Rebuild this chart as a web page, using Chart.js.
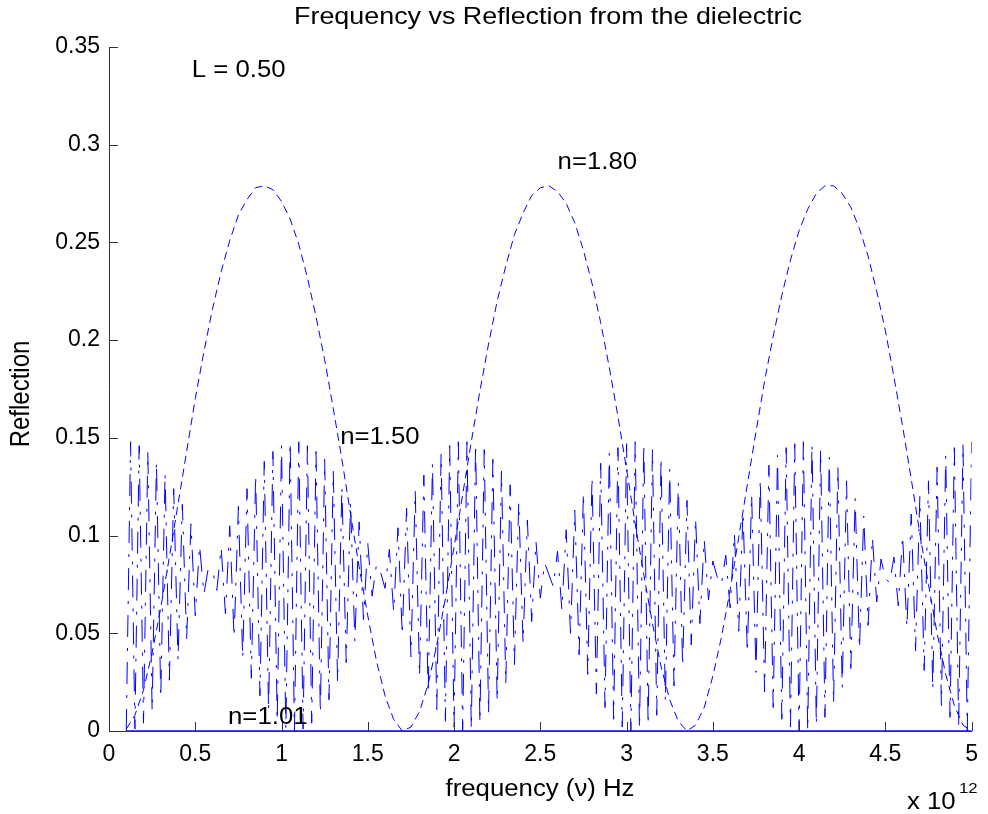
<!DOCTYPE html>
<html>
<head>
<meta charset="utf-8">
<title>Frequency vs Reflection from the dielectric</title>
<script src="https://cdn.jsdelivr.net/npm/chart.js@4.4.0/dist/chart.umd.min.js"></script>
<style>
  html, body { margin: 0; padding: 0; background: #fff; }
</style>
</head>
<body>
<canvas id="myChart" width="988" height="814"></canvas>
<script>
// frequency axis in units of 10^12 Hz
const xTickLabels = ["0", "0.5", "1", "1.5", "2", "2.5", "3", "3.5", "4", "4.5", "5"];
const yTickLabels = ["0", "0.05", "0.1", "0.15", "0.2", "0.25", "0.3", "0.35"];

// n = 1.80, sampled every 0.05 from 0.1
const n180Start = 0.1, n180Step = 0.05;
const n180 = [
  0.001, 0.008, 0.021, 0.040, 0.063, 0.089, 0.116, 0.143, 0.170, 0.194,
  0.216, 0.235, 0.251, 0.264, 0.272, 0.278, 0.279, 0.277, 0.271, 0.262,
  0.249, 0.232, 0.212, 0.190, 0.165, 0.139, 0.111, 0.084, 0.059, 0.036,
  0.018, 0.006, 0.000, 0.002, 0.010, 0.024, 0.044, 0.068, 0.094, 0.121,
  0.148, 0.174, 0.198, 0.220, 0.238, 0.254, 0.265, 0.274, 0.278, 0.279,
  0.276, 0.270, 0.260, 0.246, 0.229, 0.209, 0.186, 0.161, 0.134, 0.106,
  0.080, 0.055, 0.033, 0.016, 0.005, 0.000, 0.003, 0.012, 0.028, 0.048,
  0.072, 0.099, 0.126, 0.153, 0.179, 0.202, 0.223, 0.241, 0.256, 0.267,
  0.275, 0.279, 0.279, 0.275, 0.268, 0.257, 0.243, 0.225, 0.205, 0.181,
  0.156, 0.129, 0.101, 0.075, 0.050, 0.029, 0.013, 0.003, 0.000
];

// n = 1.50, sampled every 0.025 from 0.1 (undersampled, so it zigzags)
const n150Start = 0.1, n150Step = 0.025;
const n150 = [
  0.000, 0.148, 0.001, 0.146, 0.004, 0.143, 0.010, 0.138, 0.017, 0.132,
  0.026, 0.124, 0.036, 0.116, 0.047, 0.106, 0.059, 0.095, 0.070, 0.083,
  0.082, 0.072, 0.094, 0.060, 0.105, 0.048, 0.115, 0.037, 0.124, 0.027,
  0.131, 0.018, 0.138, 0.010, 0.143, 0.005, 0.146, 0.001, 0.148, 0.000,
  0.148, 0.001, 0.146, 0.004, 0.143, 0.009, 0.139, 0.016, 0.133, 0.025,
  0.125, 0.035, 0.117, 0.046, 0.107, 0.057, 0.096, 0.069, 0.085, 0.081,
  0.073, 0.093, 0.061, 0.104, 0.049, 0.114, 0.038, 0.123, 0.028, 0.131,
  0.019, 0.137, 0.011, 0.142, 0.005, 0.146, 0.002, 0.148, 0.000, 0.148,
  0.001, 0.147, 0.004, 0.144, 0.009, 0.139, 0.015, 0.133, 0.024, 0.126,
  0.034, 0.117, 0.045, 0.108, 0.056, 0.097, 0.068, 0.086, 0.080, 0.074,
  0.092, 0.062, 0.103, 0.050, 0.113, 0.039, 0.122, 0.029, 0.130, 0.019,
  0.137, 0.012, 0.142, 0.006, 0.145, 0.002, 0.147, 0.000, 0.148, 0.001,
  0.147, 0.003, 0.144, 0.008, 0.140, 0.015, 0.134, 0.023, 0.127, 0.033,
  0.118, 0.044, 0.109, 0.055, 0.098, 0.067, 0.087, 0.079, 0.075, 0.090,
  0.063, 0.101, 0.051, 0.112, 0.040, 0.121, 0.030, 0.129, 0.020, 0.136,
  0.012, 0.141, 0.006, 0.145, 0.002, 0.147, 0.000, 0.148, 0.000, 0.147,
  0.003, 0.144, 0.007, 0.140, 0.014, 0.135, 0.022, 0.128, 0.032, 0.119,
  0.042, 0.110, 0.054, 0.099, 0.066, 0.088, 0.078, 0.076, 0.089, 0.064,
  0.100, 0.053, 0.111, 0.041, 0.120, 0.031, 0.128, 0.021, 0.135, 0.013,
  0.141, 0.007, 0.145, 0.003, 0.147, 0.000, 0.148
];

// n = 1.01, practically flat on zero
const n101Freq = [0.1, 1, 2, 3, 4, 5];
const n101 = [0.0001, 0.0001, 0.0001, 0.0001, 0.0001, 0.0001];

// text notes placed in data units
const noteText = ["L = 0.50", "n=1.80", "n=1.50", "n=1.01"];
const noteX = [0.48, 2.6, 1.34, 0.69];
const noteY = [0.338, 0.291, 0.15, 0.0066];

const FONT = '"Liberation Sans", Arial, Helvetica, sans-serif';
const stretch = 1.12;

function toPoints(start, step, vals) {
  return vals.map((v, i) => ({ x: +(start + i * step).toFixed(3), y: v }));
}

function drawText(ctx, txt, x, y, size, align) {
  ctx.save();
  ctx.font = size + "px " + FONT;
  ctx.fillStyle = "#000";
  ctx.textBaseline = "middle";
  ctx.textAlign = align || "left";
  ctx.translate(x, y);
  ctx.scale(stretch, 1);
  ctx.fillText(txt, 0, 0);
  ctx.restore();
}

const matlabAxes = {
  id: "matlabAxes",
  afterDatasetsDraw(chart) {
    const { ctx, chartArea: a, scales: { x, y } } = chart;
    // ticks point inwards like matlab
    ctx.save();
    ctx.strokeStyle = "#333";
    ctx.lineWidth = 1;
    ctx.beginPath();
    x.ticks.forEach((t) => {
      const px = Math.round(x.getPixelForValue(t.value)) + 0.5;
      ctx.moveTo(px, a.bottom);
      ctx.lineTo(px, a.bottom - 9);
    });
    y.ticks.forEach((t) => {
      const py = Math.round(y.getPixelForValue(t.value)) + 0.5;
      ctx.moveTo(a.left, py);
      ctx.lineTo(a.left + 9, py);
    });
    ctx.stroke();
    ctx.restore();

    noteText.forEach((txt, i) => {
      drawText(ctx, txt, x.getPixelForValue(noteX[i]), y.getPixelForValue(noteY[i]), 23);
    });
  },
  afterDraw(chart) {
    const ctx = chart.ctx;
    drawText(ctx, "Frequency vs Reflection from the dielectric", 548, 17, 24, "center");
    drawText(ctx, "frequency (\u03BD) Hz", 540, 790, 23, "center");
    drawText(ctx, "x 10", 907, 803, 23, "left");
    drawText(ctx, "12", 959, 789, 15, "left");

    ctx.save();
    ctx.font = "24px " + FONT;
    ctx.fillStyle = "#000";
    ctx.textAlign = "center";
    ctx.textBaseline = "middle";
    ctx.translate(22, 394);
    ctx.scale(stretch, 1);
    ctx.rotate(-Math.PI / 2);
    ctx.fillText("Reflection", 0, 0);
    ctx.restore();
  },
};

const cxx = document.getElementById("myChart").getContext("2d");
new Chart(cxx, {
  type: "line",
  data: {
    datasets: [
      {
        label: "n=1.01",
        data: n101Freq.map((f, i) => ({ x: f, y: n101[i] })),
        borderColor: "rgb(0,0,255)",
        borderWidth: 1,
      },
      {
        label: "n=1.50",
        data: toPoints(n150Start, n150Step, n150),
        borderColor: "rgb(0,0,255)",
        borderWidth: 1,
        borderDash: [22, 11, 3, 11],
      },
      {
        label: "n=1.80",
        data: toPoints(n180Start, n180Step, n180),
        borderColor: "rgb(0,0,255)",
        borderWidth: 1,
        borderDash: [8, 5],
      },
    ],
  },
  options: {
    responsive: false,
    animation: false,
    elements: { point: { radius: 0 }, line: { tension: 0, fill: false } },
    layout: { padding: { top: 47, right: 11, left: 0, bottom: 0 } },
    plugins: { legend: { display: false }, tooltip: { enabled: false }, title: { display: false } },
    scales: {
      x: {
        type: "linear",
        min: 0,
        max: 5,
        ticks: {
          stepSize: 0.5,
          autoSkip: false,
          maxRotation: 0,
          padding: 10,
          color: "#000",
          font: { family: FONT, size: 23 },
          callback: (v, i) => xTickLabels[i],
        },
        grid: { display: false, drawTicks: false },
        border: { display: true, color: "#333", width: 1 },
        afterFit: (s) => { s.height = 83; },
      },
      y: {
        type: "linear",
        min: 0,
        max: 0.35,
        ticks: {
          stepSize: 0.05,
          autoSkip: false,
          padding: 9,
          color: "#000",
          font: { family: FONT, size: 23 },
          callback: (v, i) => yTickLabels[i],
        },
        grid: { display: false, drawTicks: false },
        border: { display: true, color: "#333", width: 1 },
        afterFit: (s) => { s.width = 109; },
      },
    },
  },
  plugins: [matlabAxes],
});
</script>
</body>
</html>
